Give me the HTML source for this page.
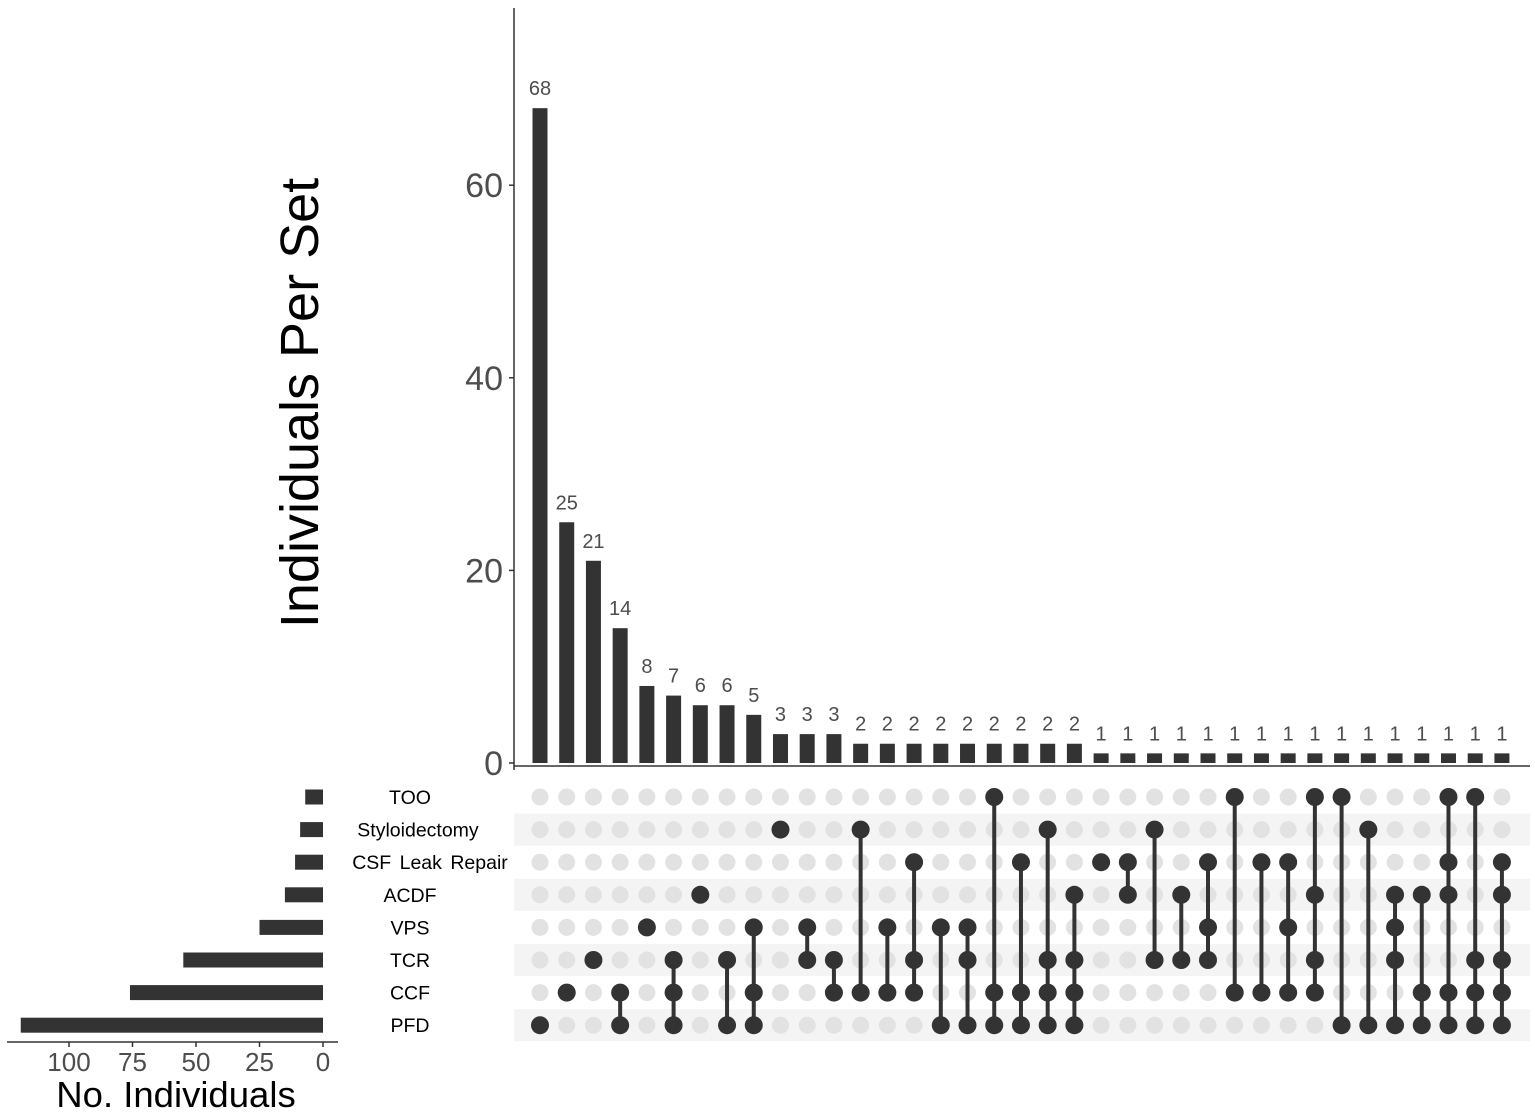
<!DOCTYPE html>
<html><head><meta charset="utf-8"><style>
body{margin:0;background:#fff;}
svg{display:block;font-family:"Liberation Sans",sans-serif;}
</style></head><body>
<svg id="chart" width="1535" height="1114" viewBox="0 0 1535 1114"></svg>
<script>
const setNames = ["TOO","Styloidectomy","CSF Leak Repair","ACDF","VPS","TCR","CCF","PFD"];
const counts = [68,25,21,14,8,7,6,6,5,3,3,3,2,2,2,2,2,2,2,2,2,1,1,1,1,1,1,1,1,1,1,1,1,1,1,1,1];
const members = [[7],[6],[5],[6,7],[4],[5,6,7],[3],[5,7],[4,6,7],[1],[4,5],[5,6],[1,6],[4,6],[2,5,6],[4,7],[4,5,7],[0,6,7],[2,6,7],[1,5,6,7],[3,5,6,7],[2],[2,3],[1,5],[3,5],[2,4,5],[0,6],[2,6],[2,4,6],[0,3,5,6],[0,7],[1,7],[3,4,5,7],[3,6,7],[0,2,3,6,7],[0,5,6,7],[2,3,5,6,7]];
const yTicks = [0,20,40,60];
const setTicks = [0,25,50,75,100];

const svg = document.getElementById('chart');
const NS = 'http://www.w3.org/2000/svg';
function mk(tag, attrs, parent){const e=document.createElementNS(NS,tag);for(const k in attrs)e.setAttribute(k,attrs[k]);(parent||svg).appendChild(e);return e;}
const xCol = i => 540 + i*26.72;
const yVal = v => 763 - v*9.63;
const yRow = r => 797 + r*32.6;
const xSet = v => 323 - v*2.54;
const labelX = [410,418,430,410,410,410,410,410];

const setSizes = setNames.map((_,r)=>members.reduce((s,m,i)=>s+(m.includes(r)?counts[i]:0),0));

setNames.forEach((n,r)=>{ if(r%2===1){
  const s=mk('rect',{x:514,y:yRow(r)-16,width:1016,height:32,fill:'#f4f4f4'});
  
  
}});

let a=mk('line',{x1:514,y1:8,x2:514,y2:770,stroke:'#333','stroke-width':1.5});


a=mk('line',{x1:514,y1:766,x2:1530,y2:766,stroke:'#333','stroke-width':1.5});


yTicks.forEach(t=>{
  const tk=mk('line',{x1:509,y1:yVal(t),x2:514,y2:yVal(t),stroke:'#333','stroke-width':1.5});
  
  
  const tl=mk('text',{x:503,y:yVal(t)+12,'text-anchor':'end','font-size':34,fill:'#4d4d4d'});
  tl.textContent=t;
  
  
});
const yt=mk('text',{x:0,y:0,transform:'translate(318,403) rotate(-90)','text-anchor':'middle','font-size':54,fill:'#000'});
yt.textContent='Individuals Per Set';



counts.forEach((c,i)=>{
  const b=mk('rect',{x:xCol(i)-7.5,y:yVal(c),width:15,height:763-yVal(c),fill:'#333'});
  
  
  const l=mk('text',{x:xCol(i),y:yVal(c)-13,'text-anchor':'middle','font-size':20,fill:'#4d4d4d'});
  l.textContent=c;
  
  
});

members.forEach((m,i)=>{
  setNames.forEach((n,r)=>{ if(!m.includes(r)){
    const d=mk('circle',{cx:xCol(i),cy:yRow(r),r:8.5,fill:'#e2e2e2'});
    
    
  }});
  const lo=Math.min(...m), hi=Math.max(...m);
  if(hi>lo){
    const ln=mk('line',{x1:xCol(i),y1:yRow(lo),x2:xCol(i),y2:yRow(hi),stroke:'#333','stroke-width':4});
    
    
  }
  m.forEach(r=>{
    const d=mk('circle',{cx:xCol(i),cy:yRow(r),r:9,fill:'#333'});
    
    
  });
});

setNames.forEach((n,r)=>{
  const t=mk('text',{x:labelX[r],y:yRow(r)+7,'text-anchor':'middle','font-size':19.5,fill:'#000','word-spacing':(r===2?3:0)});
  t.textContent=n;
  
  
  const b=mk('rect',{x:xSet(setSizes[r]),y:yRow(r)-7.5,width:323-xSet(setSizes[r]),height:15,fill:'#333'});
  
  
});
a=mk('line',{x1:7,y1:1042,x2:338,y2:1042,stroke:'#333','stroke-width':1.5});


setTicks.forEach(t=>{
  const tk=mk('line',{x1:xSet(t),y1:1042,x2:xSet(t),y2:1047,stroke:'#333','stroke-width':1.5});
  
  
  const tl=mk('text',{x:xSet(t),y:1071,'text-anchor':'middle','font-size':26,fill:'#4d4d4d'});
  tl.textContent=t;
  
  
});
const xt=mk('text',{x:176,y:1107,'text-anchor':'middle','font-size':36.5,fill:'#000'});
xt.textContent='No. Individuals';


</script>
</body></html>
